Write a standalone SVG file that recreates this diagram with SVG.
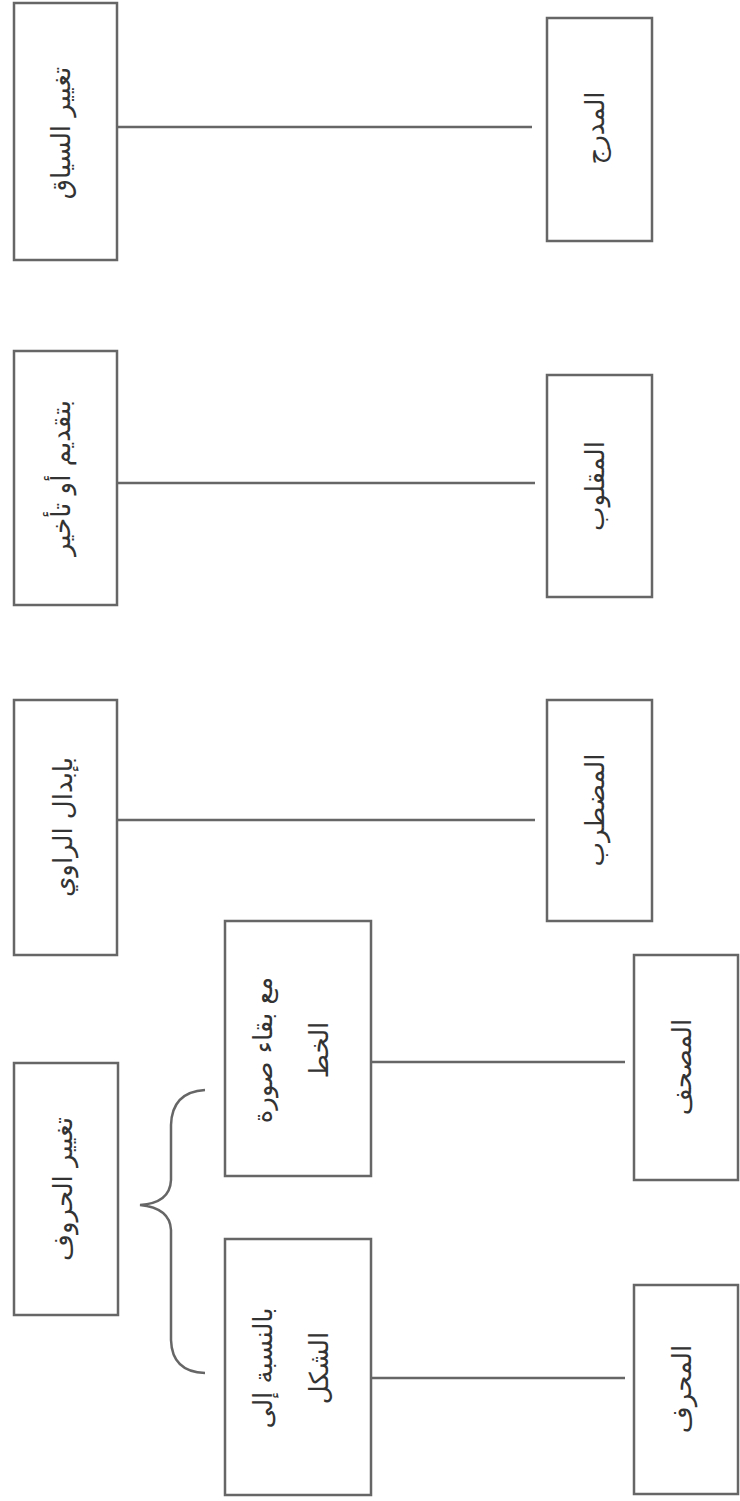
<svg xmlns="http://www.w3.org/2000/svg" width="740" height="1501" viewBox="0 0 740 1501">
<style>
.box{fill:#fff;stroke:#666;stroke-width:2.5}
.t{font-family:"DejaVu Sans",sans-serif;font-size:26px;fill:#333;text-anchor:middle}
.ln{stroke:#666;stroke-width:2.5;fill:none}
</style>
<rect width="740" height="1501" fill="#fff"/>
<g id="connectors">
<line class="ln" x1="117" y1="127" x2="532" y2="127"/>
<line class="ln" x1="117" y1="483" x2="535" y2="483"/>
<line class="ln" x1="117" y1="820" x2="535" y2="820"/>
<line class="ln" x1="371" y1="1062" x2="625" y2="1062"/>
<line class="ln" x1="371" y1="1378" x2="625" y2="1378"/>
<path class="ln" d="M205,1090 Q172,1092 171,1125 L171,1180 Q170,1203 140,1205 Q170,1208 171,1230 L171,1340 Q172,1372 205,1373"/>
</g>
<g id="n1"><rect class="box" x="14" y="3" width="103" height="257"/><text class="t" transform="translate(70,133) rotate(-90)">تغيير السياق</text></g>
<g id="n2"><rect class="box" x="547" y="18" width="105" height="223"/><text class="t" transform="translate(604,128) rotate(-90)">المدرج</text></g>
<g id="n3"><rect class="box" x="14" y="351" width="103" height="254"/><text class="t" transform="translate(70,478) rotate(-90)">بتقديم أو تأخير</text></g>
<g id="n4"><rect class="box" x="547" y="375" width="105" height="222"/><text class="t" transform="translate(604,486) rotate(-90)">المقلوب</text></g>
<g id="n5"><rect class="box" x="14" y="700" width="103" height="255"/><text class="t" transform="translate(72,827) rotate(-90)">بإبدال الراوي</text></g>
<g id="n6"><rect class="box" x="547" y="700" width="105" height="221"/><text class="t" transform="translate(604,810) rotate(-90)">المضطرب</text></g>
<g id="n7"><rect class="box" x="14" y="1063" width="104" height="252"/><text class="t" transform="translate(72,1189) rotate(-90)">تغيير الحروف</text></g>
<g id="n8"><rect class="box" x="225" y="921" width="146" height="255"/><text class="t" transform="translate(272,1050) rotate(-90)">مع بقاء صورة</text><text class="t" transform="translate(328,1050) rotate(-90)">الخط</text></g>
<g id="n9"><rect class="box" x="225" y="1239" width="146" height="256"/><text class="t" transform="translate(272,1368) rotate(-90)">بالنسبة إلى</text><text class="t" transform="translate(328,1368) rotate(-90)">الشكل</text></g>
<g id="n10"><rect class="box" x="634" y="955" width="104" height="225"/><text class="t" transform="translate(691,1067) rotate(-90)">المصحف</text></g>
<g id="n11"><rect class="box" x="634" y="1285" width="104" height="209"/><text class="t" transform="translate(691,1389) rotate(-90)">المحرف</text></g>
</svg>
